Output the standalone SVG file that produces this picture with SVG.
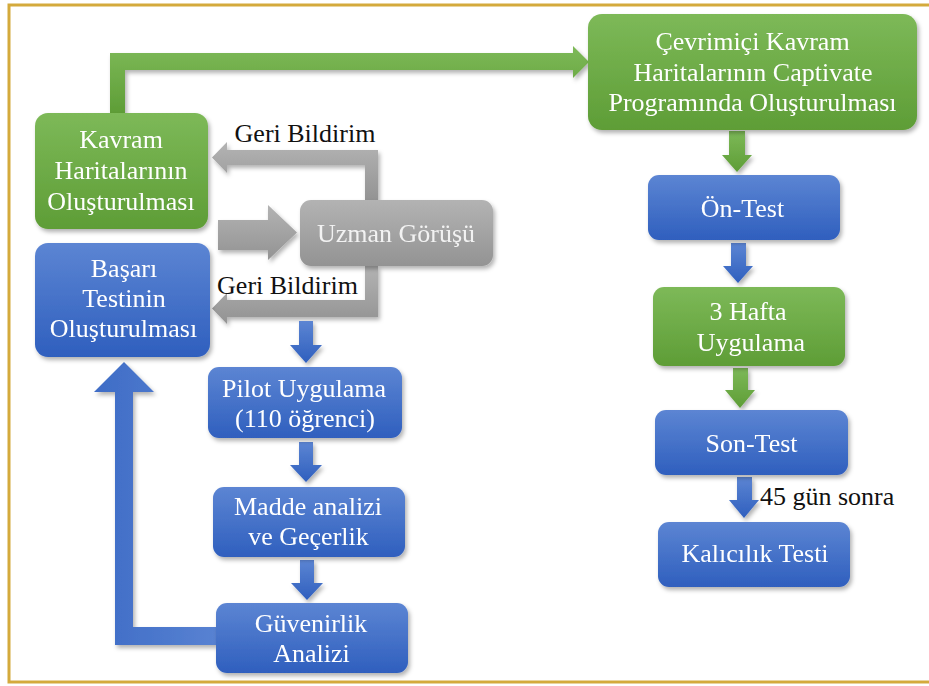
<svg xmlns="http://www.w3.org/2000/svg" width="929" height="686" viewBox="0 0 929 686">
<defs>
<linearGradient id="gG" x1="0" y1="0" x2="0" y2="1"><stop offset="0" stop-color="#7db958"/><stop offset="1" stop-color="#5e9d36"/></linearGradient>
<linearGradient id="gB" x1="0" y1="0" x2="0" y2="1"><stop offset="0" stop-color="#5c85d3"/><stop offset="1" stop-color="#2f5fbe"/></linearGradient>
<linearGradient id="gR" x1="0" y1="0" x2="0" y2="1"><stop offset="0" stop-color="#b3b3b3"/><stop offset="1" stop-color="#939393"/></linearGradient>
<linearGradient id="gBh" x1="0" y1="0" x2="1" y2="0"><stop offset="0" stop-color="#3e6cc6"/><stop offset="1" stop-color="#5882d2"/></linearGradient>
<filter id="sh" x="-10%" y="-10%" width="130%" height="140%"><feDropShadow dx="2" dy="3" stdDeviation="2" flood-color="#000" flood-opacity="0.3"/></filter>
</defs>
<style>
.t{fill:#ffffff}
.k{fill:#111111}
.g{fill:url(#gG)}
.b{fill:url(#gB)}
.r{fill:url(#gR)}
</style>
<rect x="0" y="0" width="929" height="686" fill="#ffffff"/>
<rect x="9" y="5" width="940" height="677" fill="none" stroke="#d4aa3c" stroke-width="3"/>

<g id="connectors" filter="url(#sh)">
<polygon class="g" points="110,113 110,53 573,53 573,46 589,62 573,78 573,70 125,70 125,113"/>
<polygon class="g" points="729,131 745,131 745,155 752,155 737,172 722,155 729,155"/>
<polygon class="b" points="731,243 746,243 746,266 753,266 738,283 723,266 731,266"/>
<polygon class="g" points="733,368 748,368 748,390 755,390 740,408 725,390 733,390"/>
<polygon class="b" points="737,477 752,477 752,500 759,500 744,518 729,500 737,500"/>
<polygon class="r" points="378,200 378,150 227,150 227,142 212,157.5 227,173 227,165 365,165 365,200"/>
<polygon class="r" points="365,266 365,300 227,300 227,293 212,308.5 227,324 227,317 378,317 378,266"/>
<polygon class="r" points="218,220 268,220 268,205 297,232.5 268,260 268,250 218,250"/>
<polygon class="b" points="299,321 313,321 313,345 322,345 306,363 290,345 299,345"/>
<polygon class="b" points="299,442 313,442 313,465 322,465 306,482 290,465 299,465"/>
<polygon class="b" points="300,560 314,560 314,583 323,583 307,600 291,583 300,583"/>
<polygon fill="url(#gBh)" points="216,627 133,627 133,392 154,392 124,362 94,392 115,392 115,645 216,645"/>
</g>
<g font-family="Liberation Serif, Times New Roman, serif" font-size="26" text-anchor="middle">
<g id="lbl-geri1"><text class="k" x="305" y="142">Geri Bildirim</text></g>
<g id="lbl-geri2"><text class="k" x="287.5" y="294">Geri Bildirim</text></g>
<g id="lbl-45"><text class="k" x="760" y="505" text-anchor="start">45 gün sonra</text></g>

<g id="kavram" filter="url(#sh)">
<rect class="g" x="35" y="113" width="173" height="116" rx="13"/>
<text class="t" x="121" y="148">Kavram</text>
<text class="t" x="121" y="179">Haritalarının</text>
<text class="t" x="121" y="210">Oluşturulması</text>
</g>
<g id="basari" filter="url(#sh)">
<rect class="b" x="35" y="243" width="175" height="114" rx="13"/>
<text class="t" x="124" y="277">Başarı</text>
<text class="t" x="124" y="307">Testinin</text>
<text class="t" x="123.5" y="337">Oluşturulması</text>
</g>
<g id="uzman" filter="url(#sh)">
<rect class="r" x="300" y="200" width="193" height="66" rx="11"/>
<text x="396" y="242" fill="#f2f2f2">Uzman Görüşü</text>
</g>
<g id="pilot" filter="url(#sh)">
<rect class="b" x="208" y="367" width="194" height="71" rx="11"/>
<text class="t" x="304" y="397">Pilot Uygulama</text>
<text class="t" x="305" y="427">(110 öğrenci)</text>
</g>
<g id="madde" filter="url(#sh)">
<rect class="b" x="213" y="487" width="192" height="70" rx="11"/>
<text class="t" x="308" y="515">Madde analizi</text>
<text class="t" x="308.5" y="545">ve Geçerlik</text>
</g>
<g id="guvenirlik" filter="url(#sh)">
<rect class="b" x="216" y="603" width="192" height="70" rx="11"/>
<text class="t" x="311" y="632">Güvenirlik</text>
<text class="t" x="311.5" y="662">Analizi</text>
</g>
<g id="cevrimici" filter="url(#sh)">
<rect class="g" x="588" y="14" width="329" height="116" rx="14"/>
<text class="t" x="752.5" y="50">Çevrimiçi Kavram</text>
<text class="t" x="753" y="81">Haritalarının Captivate</text>
<text class="t" x="752.5" y="111">Programında Oluşturulması</text>
</g>
<g id="ontest" filter="url(#sh)">
<rect class="b" x="648" y="175" width="192" height="65" rx="11"/>
<text class="t" x="742.5" y="217">Ön-Test</text>
</g>
<g id="hafta" filter="url(#sh)">
<rect class="g" x="653" y="287" width="192" height="79" rx="11"/>
<text class="t" x="748" y="320">3 Hafta</text>
<text class="t" x="751" y="351">Uygulama</text>
</g>
<g id="sontest" filter="url(#sh)">
<rect class="b" x="655" y="410" width="193" height="65" rx="11"/>
<text class="t" x="751.5" y="452">Son-Test</text>
</g>
<g id="kalicilik" filter="url(#sh)">
<rect class="b" x="658" y="522" width="192" height="65" rx="11"/>
<text class="t" x="755" y="562">Kalıcılık Testi</text>
</g>
</g>
</svg>
